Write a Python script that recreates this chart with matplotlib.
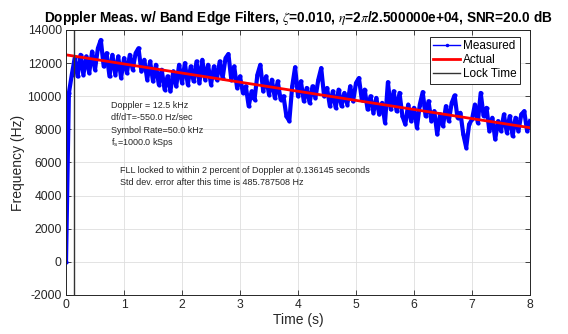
import matplotlib
matplotlib.use("Agg")
import matplotlib.pyplot as plt
import numpy as np

plt.rcParams["font.family"] = ["Liberation Sans", "DejaVu Sans"]
plt.rcParams["mathtext.fontset"] = "stix"
plt.rcParams["axes.unicode_minus"] = False

# loop / scenario parameters
doppler = 12500.0        # Hz
doppler_rate = -550.0    # Hz/sec
symbol_rate = 50.0       # kHz
fs = 1000.0              # kSps
zeta = 0.010
eta_den = 2.5e4
snr_db = 20.0
lock_time = 0.136145     # s
std_err = 485.787508     # Hz

# FLL frequency estimate, sampled every 0.05 s
t_step = 0.05
measured = [
    0, 10200, 11300, 12300, 11200, 12500, 11300, 12400, 11400, 12700,
    11600, 12900, 13400, 11800, 12600, 11200, 12500, 11300, 12400, 11100,
    12300, 11400, 12500, 11600, 12600, 12900, 11500, 12200, 11000, 12100,
    10900, 11900, 10700, 11600, 10400, 11200, 10300, 11500, 10600, 11900,
    10800, 12000, 10700, 11800, 10900, 12100, 10800, 12200, 11000, 11900,
    10700, 11800, 11000, 12100, 11100, 12300, 12550, 11000, 11800, 10500,
    11200, 10200, 10600, 9400, 10300, 9800, 11300, 11900, 10300, 11200,
    10100, 11000, 9900, 10900, 9800, 10000, 8800, 8500, 10600, 11750,
    10000, 10900, 9700, 10500, 9600, 10600, 9900, 11000, 11700, 10000,
    10500, 9400, 10300, 9300, 10400, 9400, 10200, 9500, 10600, 9700,
    10800, 11100, 9800, 10400, 9200, 10000, 9000, 9900, 8900, 9600,
    8400, 10850, 9200, 10300, 9100, 10200, 8800, 8300, 9500, 8500,
    9300, 8100, 9500, 10250, 8800, 9700, 8500, 9100, 7700, 8900,
    8200, 9400, 8500, 9600, 10050, 8700, 9000, 7700, 6900, 8300,
    8600, 9500, 8400, 10200, 8800, 9300, 7900, 8700, 7400, 8500,
    7900, 8900, 7800, 8800, 7600, 8700, 7900, 8900, 9100, 7900,
    8500,
]
t_meas = np.arange(len(measured)) * t_step

t_end = 8.0
t_actual = np.array([0.0, t_end])
actual = doppler + doppler_rate * t_actual

xticks = np.arange(0, 9, 1)
yticks = np.arange(-2000, 14001, 2000)

fig = plt.figure(figsize=(5.68, 3.34), dpi=100)
ax = fig.add_axes([0.1162, 0.1168, 0.8169, 0.7934])

ax.plot(t_meas, measured, color="#0000ff", lw=3.0, marker=".", ms=4,
        label="Measured")
ax.plot(t_actual, actual, color="#ff0000", lw=2, label="Actual")
ax.axvline(lock_time, color="#333333", lw=1, label="Lock Time")

ax.set_xlim(0, 8)
ax.set_ylim(-2000, 14000)
ax.set_xticks(xticks)
ax.set_yticks(yticks)
ax.grid(True, color="#dedede", lw=0.6)
ax.set_axisbelow(True)
ax.tick_params(direction="in", top=True, right=True, length=3.5, width=0.6,
               labelsize=8.7, colors="#262626", pad=3)
for s in ax.spines.values():
    s.set_color("#262626")
    s.set_linewidth(0.7)

ax.set_xlabel("Time (s)", fontsize=10, color="#262626", labelpad=1)
ax.set_ylabel("Frequency (Hz)", fontsize=10, color="#262626", labelpad=2)
ax.set_title(
    f"Doppler Meas. w/ Band Edge Filters, $\\zeta$={zeta:.3f}, "
    f"$\\eta$=2$\\pi$/{eta_den:e}, SNR={snr_db:.1f} dB",
    fontsize=9.8, fontweight="bold", pad=6)

info = [
    f"Doppler = {doppler / 1000:.1f} kHz",
    f"df/dT={doppler_rate:.1f} Hz/sec",
    f"Symbol Rate={symbol_rate:.1f} kHz",
    f"f$_\\mathregular{{s}}$={fs:.1f} kSps",
]
for k, line in enumerate(info):
    ax.text(0.097, 0.715 - k * 0.047, line, transform=ax.transAxes,
            fontsize=6.5, va="center", color="#262626")

ax.text(0.116, 0.468,
        f"FLL locked to within 2 percent of Doppler at {lock_time:f} seconds",
        transform=ax.transAxes, fontsize=6.5, va="center", color="#262626")
ax.text(0.116, 0.423, f"Std dev. error after this time is {std_err:f} Hz",
        transform=ax.transAxes, fontsize=6.5, va="center", color="#262626")

leg = ax.legend(loc="upper right", bbox_to_anchor=(0.978, 0.974),
                borderaxespad=0, fontsize=8.5, handlelength=2.3,
                handletextpad=0.2, labelspacing=0.15, borderpad=0.3,
                fancybox=False, framealpha=1, edgecolor="#262626")
leg.get_frame().set_linewidth(0.7)
leg.get_lines()[0].set_linewidth(1)
leg.get_lines()[0].set_markersize(3)

fig.savefig("out.png", dpi=100)
